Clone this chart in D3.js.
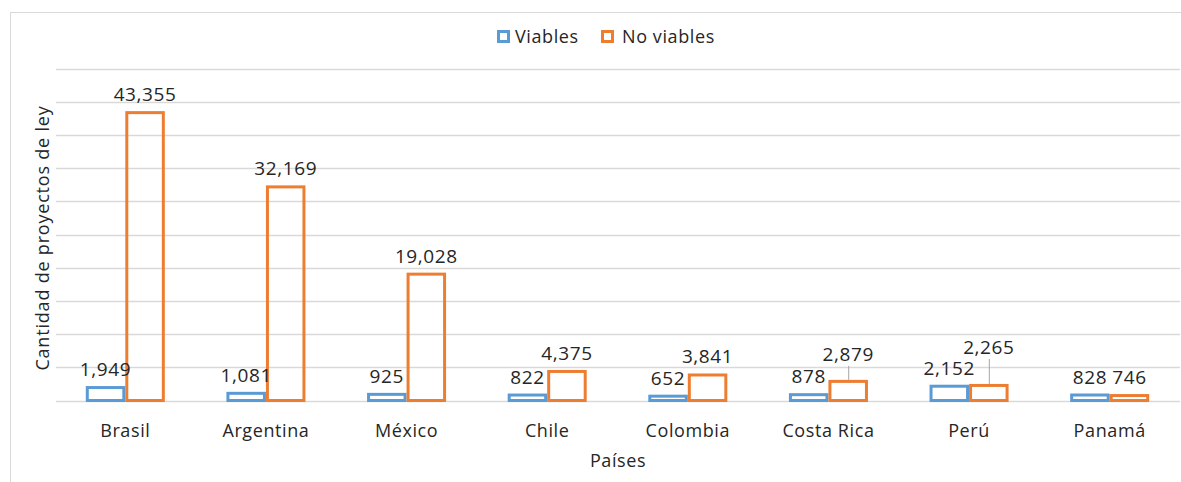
<!DOCTYPE html>
<html>
<head>
<meta charset="utf-8">
<script src="https://cdn.jsdelivr.net/npm/d3@7"></script>
<style>
	body { margin: 0; background: #fff; }
	text { font-family: "Open Sans", sans-serif; fill: #262626; }
</style>
</head>
<body>
<svg id="viz" width="1181" height="482"></svg>
<script>
var paises = ['Brasil', 'Argentina', 'México', 'Chile', 'Colombia', 'Costa Rica', 'Perú', 'Panamá'],
	viables = [1949, 1081, 925, 822, 652, 878, 2152, 828],
	noViables = [43355, 32169, 19028, 4375, 3841, 2879, 2265, 746],
	series = ['Viables', 'No viables'],
	colores = ['#5b9bd5', '#ed7d31'],
	yTicks = [0, 5000, 10000, 15000, 20000, 25000, 30000, 35000, 40000, 45000, 50000];

// labels Excel pushed up with a leader line: [serie, pais, lift px]
var leaders = [[1, 'Costa Rica', 9], [1, 'Perú', 20]];

var viz = d3.select('#viz');

// outer chart frame
viz.append('rect')
	.attr('x', 10.5).attr('y', 12.5)
	.attr('width', 1200).attr('height', 500)
	.attr('fill', 'none').attr('stroke', '#d9d9d9');

var x0 = d3.scaleBand().domain(paises).range([55, 1180]).paddingInner(0.438).paddingOuter(0.219),
	x1 = d3.scaleBand().domain([0, 1]).range([0, x0.bandwidth()]),
	y = d3.scaleLinear().domain([0, 50000]).range([400.5, 68.5]);

// grid
viz.append('g').selectAll('line').data(yTicks).enter().append('line')
	.attr('x1', 56).attr('x2', 1180)
	.attr('y1', function(d) { return Math.round(y(d)) + 0.5; })
	.attr('y2', function(d) { return Math.round(y(d)) + 0.5; })
	.attr('stroke', '#d9d9d9').attr('stroke-width', 1.3);

var datos = [viables, noViables];

datos.forEach(function(vals, s) {
	var g = viz.append('g');
	g.selectAll('rect').data(vals).enter().append('rect')
		.attr('x', function(d, i) { return x0(paises[i]) + x1(s) + 1.5; })
		.attr('width', x1.bandwidth() - 3)
		.attr('y', function(d) { return y(d); })
		.attr('height', function(d) { return y(0) - y(d); })
		.attr('fill', 'none')
		.attr('stroke', colores[s])
		.attr('stroke-width', 3);
});

var fmt = d3.format(',');

datos.forEach(function(vals, s) {
	var g = viz.append('g');
	vals.forEach(function(d, i) {
		var cx = x0(paises[i]) + x1(s) + x1.bandwidth() / 2,
			top = y(d) - 1.5,
			lift = 0;
		leaders.forEach(function(l) { if (l[0] == s && l[1] == paises[i]) lift = l[2]; });
		if (lift) {
			g.append('line')
				.attr('x1', cx + 0.5).attr('x2', cx + 0.5)
				.attr('y1', top - 11 - lift + 6).attr('y2', top)
				.attr('stroke', '#a6a6a6').attr('stroke-width', 1);
		}
		g.append('text')
			.attr('x', cx)
			.attr('y', top - 10 - lift)
			.attr('text-anchor', 'middle')
			.attr('font-size', 19)
			.style('letter-spacing', '0.6px')
			.text(fmt(d));
	});
});

// category labels
viz.append('g').selectAll('text').data(paises).enter().append('text')
	.attr('x', function(d) { return x0(d) + x0.bandwidth() / 2; })
	.attr('y', 437)
	.attr('text-anchor', 'middle')
	.attr('font-size', 18)
	.style('letter-spacing', '0.6px')
	.text(function(d) { return d; });

viz.append('text')
	.attr('x', 618).attr('y', 467)
	.attr('text-anchor', 'middle')
	.attr('font-size', 18)
	.style('letter-spacing', '0.6px')
	.text('Países');

viz.append('text')
	.attr('transform', 'translate(49,238) rotate(-90)')
	.attr('text-anchor', 'middle')
	.attr('font-size', 18)
	.style('letter-spacing', '0.8px')
	.text('Cantidad de proyectos de ley');

// legend
var leg = viz.append('g');
var legX = [497, 601], legT = [515, 622];
series.forEach(function(n, i) {
	leg.append('rect')
		.attr('x', legX[i] + 1.5).attr('y', 31.5)
		.attr('width', 10).attr('height', 10)
		.attr('fill', 'none').attr('stroke', colores[i]).attr('stroke-width', 3);
	leg.append('text')
		.attr('x', legT[i]).attr('y', 43)
		.attr('font-size', 18)
		.style('letter-spacing', '0.6px')
		.text(n);
});
</script>
</body>
</html>
